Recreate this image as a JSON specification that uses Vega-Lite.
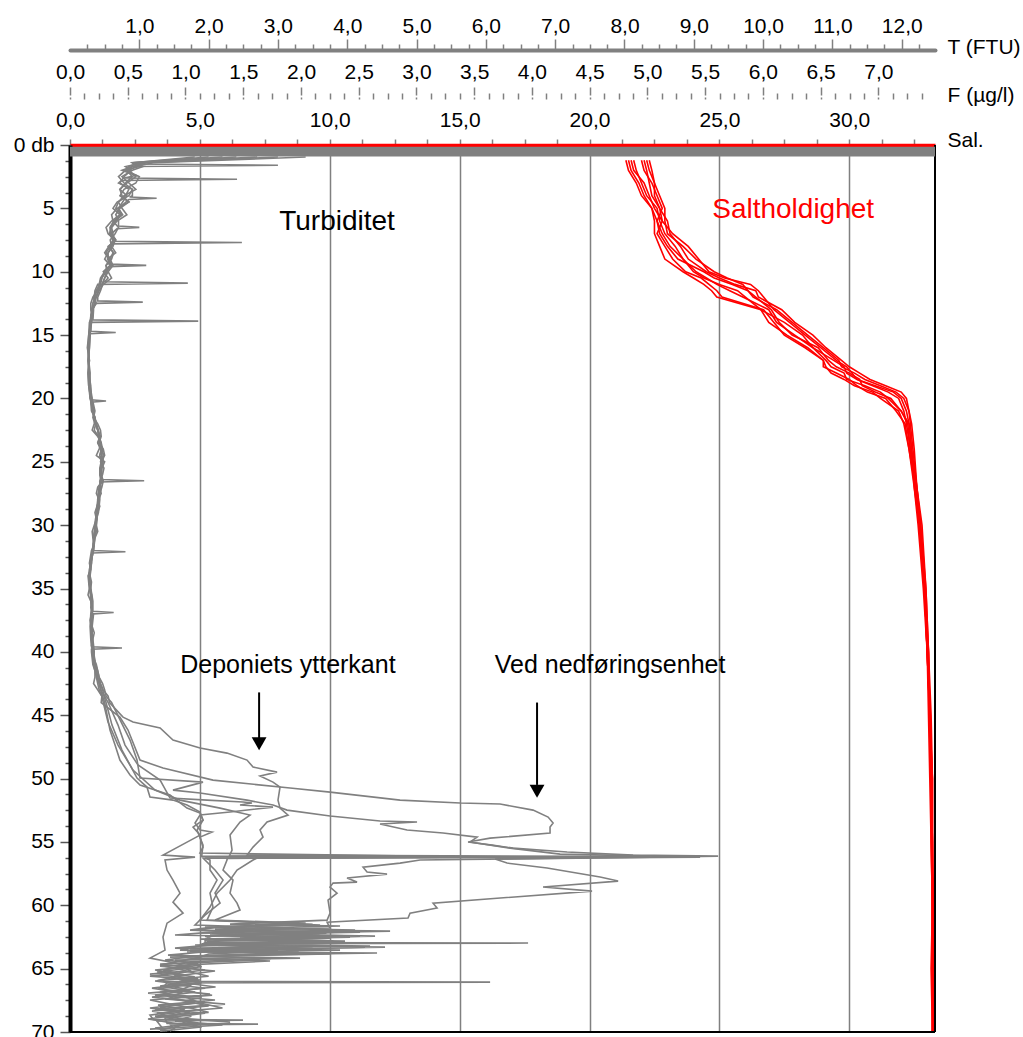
{
"$schema": "https://vega.github.io/schema/vega-lite/v6.json",
"width": 865,
"height": 887,
"autosize": "none",
"padding": {"left": 70, "top": 145, "right": 88, "bottom": 5},
"background": "white",
"config": {
  "view": {"stroke": null},
  "font": "Liberation Sans",
  "axis": {"labelFont": "Liberation Sans", "titleFont": "Liberation Sans", "labelFontSize": 21, "titleFontSize": 21, "titleFontWeight": "normal", "labelFontWeight": "normal", "labelColor": "#000", "titleColor": "#000", "labelOverlap": false, "labelBound": false, "labelFlush": false}
},
"datasets": {
"sal": [
{"p":"r1","d":1.2,"s":21.4},{"p":"r1","d":2,"s":21.5},{"p":"r1","d":3,"s":21.8},{"p":"r1","d":4,"s":22.0},{"p":"r1","d":5,"s":22.4},{"p":"r1","d":6,"s":22.5},{"p":"r1","d":7,"s":22.5},{"p":"r1","d":8,"s":22.7},{"p":"r1","d":9,"s":22.9},{"p":"r1","d":10,"s":23.6},{"p":"r1","d":10.5,"s":24.0},{"p":"r1","d":11,"s":24.4},{"p":"r1","d":11.5,"s":24.7},{"p":"r1","d":12,"s":24.9},{"p":"r1","d":13,"s":26.6},{"p":"r1","d":14,"s":26.9},{"p":"r1","d":15,"s":27.6},{"p":"r1","d":16,"s":28.4},{"p":"r1","d":17,"s":29.0},{"p":"r1","d":17.5,"s":29.1},{"p":"r1","d":18,"s":29.3},{"p":"r1","d":18.5,"s":29.8},{"p":"r1","d":19,"s":30.2},{"p":"r1","d":19.5,"s":30.9},{"p":"r1","d":20,"s":31.2},{"p":"r1","d":21,"s":31.9},{"p":"r1","d":22,"s":32.1},{"p":"r1","d":24,"s":32.3},{"p":"r1","d":27,"s":32.5},{"p":"r1","d":30,"s":32.7},{"p":"r1","d":35,"s":32.9},{"p":"r1","d":40,"s":33.0},{"p":"r1","d":45,"s":33.1},{"p":"r1","d":50,"s":33.15},{"p":"r1","d":55,"s":33.2},{"p":"r1","d":60,"s":33.2},{"p":"r1","d":65,"s":33.2},{"p":"r1","d":70,"s":33.25},
{"p":"r2","d":1.2,"s":22.3},{"p":"r2","d":2,"s":22.4},{"p":"r2","d":3,"s":22.5},{"p":"r2","d":4,"s":22.7},{"p":"r2","d":5,"s":22.9},{"p":"r2","d":6,"s":22.9},{"p":"r2","d":7,"s":23.0},{"p":"r2","d":8,"s":23.6},{"p":"r2","d":9,"s":24.1},{"p":"r2","d":10,"s":24.8},{"p":"r2","d":10.5,"s":25.3},{"p":"r2","d":11,"s":25.9},{"p":"r2","d":11.5,"s":26.1},{"p":"r2","d":12,"s":26.3},{"p":"r2","d":13,"s":27.2},{"p":"r2","d":14,"s":27.8},{"p":"r2","d":15,"s":28.4},{"p":"r2","d":16,"s":29.0},{"p":"r2","d":17,"s":29.6},{"p":"r2","d":17.5,"s":29.7},{"p":"r2","d":18,"s":30.2},{"p":"r2","d":18.5,"s":30.6},{"p":"r2","d":19,"s":31.2},{"p":"r2","d":19.5,"s":31.8},{"p":"r2","d":20,"s":32.1},{"p":"r2","d":21,"s":32.3},{"p":"r2","d":22,"s":32.35},{"p":"r2","d":24,"s":32.45},{"p":"r2","d":27,"s":32.6},{"p":"r2","d":30,"s":32.75},{"p":"r2","d":35,"s":32.95},{"p":"r2","d":40,"s":33.05},{"p":"r2","d":45,"s":33.1},{"p":"r2","d":50,"s":33.2},{"p":"r2","d":55,"s":33.2},{"p":"r2","d":60,"s":33.25},{"p":"r2","d":65,"s":33.2},{"p":"r2","d":70,"s":33.28},
{"p":"r3","d":1.2,"s":21.7},{"p":"r3","d":2,"s":21.8},{"p":"r3","d":3,"s":22.0},{"p":"r3","d":4,"s":22.2},{"p":"r3","d":5,"s":22.6},{"p":"r3","d":6,"s":22.7},{"p":"r3","d":7,"s":22.9},{"p":"r3","d":8,"s":23.3},{"p":"r3","d":9,"s":23.6},{"p":"r3","d":10,"s":24.0},{"p":"r3","d":10.5,"s":24.4},{"p":"r3","d":11,"s":25.0},{"p":"r3","d":11.5,"s":25.7},{"p":"r3","d":12,"s":26.0},{"p":"r3","d":13,"s":26.6},{"p":"r3","d":14,"s":27.5},{"p":"r3","d":15,"s":28.2},{"p":"r3","d":16,"s":28.6},{"p":"r3","d":17,"s":29.4},{"p":"r3","d":17.5,"s":29.8},{"p":"r3","d":18,"s":29.9},{"p":"r3","d":18.5,"s":30.3},{"p":"r3","d":19,"s":30.9},{"p":"r3","d":19.5,"s":31.5},{"p":"r3","d":20,"s":31.9},{"p":"r3","d":21,"s":32.1},{"p":"r3","d":22,"s":32.2},{"p":"r3","d":24,"s":32.35},{"p":"r3","d":27,"s":32.55},{"p":"r3","d":30,"s":32.7},{"p":"r3","d":35,"s":32.9},{"p":"r3","d":40,"s":33.0},{"p":"r3","d":45,"s":33.1},{"p":"r3","d":50,"s":33.15},{"p":"r3","d":55,"s":33.2},{"p":"r3","d":60,"s":33.2},{"p":"r3","d":65,"s":33.25},{"p":"r3","d":70,"s":33.2},
{"p":"r4","d":1.2,"s":22.0},{"p":"r4","d":2,"s":22.1},{"p":"r4","d":3,"s":22.4},{"p":"r4","d":4,"s":22.6},{"p":"r4","d":5,"s":22.8},{"p":"r4","d":6,"s":22.6},{"p":"r4","d":7,"s":22.7},{"p":"r4","d":8,"s":23.0},{"p":"r4","d":9,"s":23.4},{"p":"r4","d":10,"s":24.4},{"p":"r4","d":10.5,"s":24.8},{"p":"r4","d":11,"s":25.5},{"p":"r4","d":11.5,"s":26.1},{"p":"r4","d":12,"s":26.4},{"p":"r4","d":13,"s":27.0},{"p":"r4","d":14,"s":27.3},{"p":"r4","d":15,"s":27.8},{"p":"r4","d":16,"s":28.8},{"p":"r4","d":17,"s":29.2},{"p":"r4","d":17.5,"s":29.5},{"p":"r4","d":18,"s":30.0},{"p":"r4","d":18.5,"s":30.4},{"p":"r4","d":19,"s":30.5},{"p":"r4","d":19.5,"s":31.0},{"p":"r4","d":20,"s":31.6},{"p":"r4","d":21,"s":32.0},{"p":"r4","d":22,"s":32.3},{"p":"r4","d":24,"s":32.4},{"p":"r4","d":27,"s":32.5},{"p":"r4","d":30,"s":32.65},{"p":"r4","d":35,"s":32.85},{"p":"r4","d":40,"s":33.0},{"p":"r4","d":45,"s":33.05},{"p":"r4","d":50,"s":33.1},{"p":"r4","d":55,"s":33.15},{"p":"r4","d":60,"s":33.2},{"p":"r4","d":65,"s":33.15},{"p":"r4","d":70,"s":33.2},
{"p":"r5","d":1.2,"s":21.6},{"p":"r5","d":2,"s":21.7},{"p":"r5","d":3,"s":22.1},{"p":"r5","d":4,"s":22.3},{"p":"r5","d":5,"s":22.5},{"p":"r5","d":6,"s":22.8},{"p":"r5","d":7,"s":22.6},{"p":"r5","d":8,"s":22.9},{"p":"r5","d":9,"s":23.2},{"p":"r5","d":10,"s":23.7},{"p":"r5","d":10.5,"s":24.3},{"p":"r5","d":11,"s":24.6},{"p":"r5","d":11.5,"s":24.9},{"p":"r5","d":12,"s":25.1},{"p":"r5","d":13,"s":26.7},{"p":"r5","d":14,"s":27.1},{"p":"r5","d":15,"s":27.5},{"p":"r5","d":16,"s":28.3},{"p":"r5","d":17,"s":29.0},{"p":"r5","d":17.5,"s":29.0},{"p":"r5","d":18,"s":29.5},{"p":"r5","d":18.5,"s":30.0},{"p":"r5","d":19,"s":30.3},{"p":"r5","d":19.5,"s":30.7},{"p":"r5","d":20,"s":31.4},{"p":"r5","d":21,"s":31.8},{"p":"r5","d":22,"s":32.15},{"p":"r5","d":24,"s":32.3},{"p":"r5","d":27,"s":32.55},{"p":"r5","d":30,"s":32.7},{"p":"r5","d":35,"s":32.9},{"p":"r5","d":40,"s":33.0},{"p":"r5","d":45,"s":33.1},{"p":"r5","d":50,"s":33.15},{"p":"r5","d":55,"s":33.15},{"p":"r5","d":60,"s":33.2},{"p":"r5","d":65,"s":33.2},{"p":"r5","d":70,"s":33.2},
{"p":"r6","d":1.2,"s":22.2},{"p":"r6","d":2,"s":22.3},{"p":"r6","d":3,"s":22.5},{"p":"r6","d":4,"s":22.5},{"p":"r6","d":5,"s":22.7},{"p":"r6","d":6,"s":23.0},{"p":"r6","d":7,"s":23.1},{"p":"r6","d":8,"s":23.5},{"p":"r6","d":9,"s":23.8},{"p":"r6","d":10,"s":24.5},{"p":"r6","d":10.5,"s":25.0},{"p":"r6","d":11,"s":25.6},{"p":"r6","d":11.5,"s":26.4},{"p":"r6","d":12,"s":26.5},{"p":"r6","d":13,"s":27.4},{"p":"r6","d":14,"s":27.9},{"p":"r6","d":15,"s":28.6},{"p":"r6","d":16,"s":29.1},{"p":"r6","d":17,"s":29.7},{"p":"r6","d":17.5,"s":30.0},{"p":"r6","d":18,"s":30.4},{"p":"r6","d":18.5,"s":30.8},{"p":"r6","d":19,"s":31.4},{"p":"r6","d":19.5,"s":32.0},{"p":"r6","d":20,"s":32.2},{"p":"r6","d":21,"s":32.3},{"p":"r6","d":22,"s":32.4},{"p":"r6","d":24,"s":32.5},{"p":"r6","d":27,"s":32.6},{"p":"r6","d":30,"s":32.8},{"p":"r6","d":35,"s":32.95},{"p":"r6","d":40,"s":33.05},{"p":"r6","d":45,"s":33.15},{"p":"r6","d":50,"s":33.2},{"p":"r6","d":55,"s":33.2},{"p":"r6","d":60,"s":33.2},{"p":"r6","d":65,"s":33.25},{"p":"r6","d":70,"s":33.25},
{"p":"r7","d":1.2,"s":21.5},{"p":"r7","d":2,"s":21.6},{"p":"r7","d":3,"s":21.9},{"p":"r7","d":4,"s":22.1},{"p":"r7","d":5,"s":22.4},{"p":"r7","d":6,"s":22.6},{"p":"r7","d":7,"s":22.8},{"p":"r7","d":8,"s":23.1},{"p":"r7","d":9,"s":23.6},{"p":"r7","d":10,"s":24.1},{"p":"r7","d":10.5,"s":24.5},{"p":"r7","d":11,"s":24.9},{"p":"r7","d":11.5,"s":25.4},{"p":"r7","d":12,"s":25.9},{"p":"r7","d":13,"s":26.9},{"p":"r7","d":14,"s":27.2},{"p":"r7","d":15,"s":27.9},{"p":"r7","d":16,"s":28.6},{"p":"r7","d":17,"s":29.1},{"p":"r7","d":17.5,"s":29.3},{"p":"r7","d":18,"s":29.8},{"p":"r7","d":18.5,"s":29.9},{"p":"r7","d":19,"s":30.6},{"p":"r7","d":19.5,"s":31.2},{"p":"r7","d":20,"s":31.5},{"p":"r7","d":21,"s":32.0},{"p":"r7","d":22,"s":32.25},{"p":"r7","d":24,"s":32.35},{"p":"r7","d":27,"s":32.55},{"p":"r7","d":30,"s":32.7},{"p":"r7","d":35,"s":32.9},{"p":"r7","d":40,"s":33.0},{"p":"r7","d":45,"s":33.1},{"p":"r7","d":50,"s":33.15},{"p":"r7","d":55,"s":33.2},{"p":"r7","d":60,"s":33.2},{"p":"r7","d":65,"s":33.2},{"p":"r7","d":70,"s":33.2},
{"p":"r8","d":1.2,"s":22.1},{"p":"r8","d":2,"s":22.2},{"p":"r8","d":3,"s":22.3},{"p":"r8","d":4,"s":22.4},{"p":"r8","d":5,"s":22.7},{"p":"r8","d":6,"s":22.8},{"p":"r8","d":7,"s":23.2},{"p":"r8","d":8,"s":23.8},{"p":"r8","d":9,"s":24.2},{"p":"r8","d":10,"s":24.6},{"p":"r8","d":10.5,"s":25.2},{"p":"r8","d":11,"s":26.2},{"p":"r8","d":11.5,"s":26.5},{"p":"r8","d":12,"s":26.7},{"p":"r8","d":13,"s":27.1},{"p":"r8","d":14,"s":27.7},{"p":"r8","d":15,"s":28.3},{"p":"r8","d":16,"s":28.9},{"p":"r8","d":17,"s":29.5},{"p":"r8","d":17.5,"s":29.9},{"p":"r8","d":18,"s":30.1},{"p":"r8","d":18.5,"s":30.3},{"p":"r8","d":19,"s":31.0},{"p":"r8","d":19.5,"s":31.7},{"p":"r8","d":20,"s":32.0},{"p":"r8","d":21,"s":32.2},{"p":"r8","d":22,"s":32.3},{"p":"r8","d":24,"s":32.4},{"p":"r8","d":27,"s":32.6},{"p":"r8","d":30,"s":32.75},{"p":"r8","d":35,"s":32.9},{"p":"r8","d":40,"s":33.05},{"p":"r8","d":45,"s":33.1},{"p":"r8","d":50,"s":33.2},{"p":"r8","d":55,"s":33.2},{"p":"r8","d":60,"s":33.2},{"p":"r8","d":65,"s":33.2},{"p":"r8","d":70,"s":33.25}
],
"turb": [
{"p":"a","d":0.95,"t":3.0},{"p":"a","d":1.4,"t":1.1},{"p":"a","d":2,"t":0.75},{"p":"a","d":2.6,"t":0.78},{"p":"a","d":2.7,"t":2.41},{"p":"a","d":2.8,"t":0.74},{"p":"a","d":3,"t":0.7},{"p":"a","d":4,"t":0.85},{"p":"a","d":5,"t":0.62},{"p":"a","d":6,"t":0.6},{"p":"a","d":7,"t":0.55},{"p":"a","d":8,"t":0.62},{"p":"a","d":9,"t":0.5},{"p":"a","d":10,"t":0.5},{"p":"a","d":11,"t":0.42},{"p":"a","d":12,"t":0.33},{"p":"a","d":13,"t":0.3},{"p":"a","d":14,"t":0.28},{"p":"a","d":15,"t":0.27},{"p":"a","d":16,"t":0.25},{"p":"a","d":17,"t":0.28},{"p":"a","d":18,"t":0.26},{"p":"a","d":19,"t":0.27},{"p":"a","d":20,"t":0.29},{"p":"a","d":20.1,"t":0.3},{"p":"a","d":20.2,"t":0.52},{"p":"a","d":20.3,"t":0.3},{"p":"a","d":21,"t":0.31},{"p":"a","d":22,"t":0.35},{"p":"a","d":23,"t":0.4},{"p":"a","d":24,"t":0.42},{"p":"a","d":25,"t":0.5},{"p":"a","d":26,"t":0.43},{"p":"a","d":27,"t":0.4},{"p":"a","d":28,"t":0.42},{"p":"a","d":29,"t":0.36},{"p":"a","d":30,"t":0.35},{"p":"a","d":31,"t":0.33},{"p":"a","d":32,"t":0.31},{"p":"a","d":33,"t":0.28},{"p":"a","d":34,"t":0.26},{"p":"a","d":35,"t":0.28},{"p":"a","d":36,"t":0.3},{"p":"a","d":37,"t":0.3},{"p":"a","d":38,"t":0.29},{"p":"a","d":39,"t":0.3},{"p":"a","d":39.6,"t":0.31},{"p":"a","d":39.7,"t":0.75},{"p":"a","d":39.8,"t":0.31},{"p":"a","d":40,"t":0.31},{"p":"a","d":41,"t":0.33},{"p":"a","d":42,"t":0.36},{"p":"a","d":43,"t":0.4},{"p":"a","d":44,"t":0.45},
{"p":"a","d":45.15,"t":0.72},{"p":"a","d":46.17,"t":0.837},{"p":"a","d":48.54,"t":1.01},{"p":"a","d":49.17,"t":1.342},{"p":"a","d":50.12,"t":2.063},{"p":"a","d":50.75,"t":3.175},{"p":"a","d":51.07,"t":3.752},{"p":"a","d":51.7,"t":4.762},{"p":"a","d":51.93,"t":5.628},{"p":"a","d":52.01,"t":6.205},{"p":"a","d":52.49,"t":6.681},{"p":"a","d":53.04,"t":6.898},{"p":"a","d":53.51,"t":6.97},{"p":"a","d":53.83,"t":6.926},{"p":"a","d":54.3,"t":6.926},{"p":"a","d":54.7,"t":6.061},{"p":"a","d":55.01,"t":5.743},{"p":"a","d":55.25,"t":6.089},{"p":"a","d":55.49,"t":6.392},{"p":"a","d":55.8,"t":7.172},{"p":"a","d":56.04,"t":8.124},{"p":"a","d":56.12,"t":9.351},{"p":"a","d":56.27,"t":7.648},{"p":"a","d":56.35,"t":6.133},{"p":"a","d":56.67,"t":6.306},{"p":"a","d":57.06,"t":6.883},{"p":"a","d":57.77,"t":7.648},{"p":"a","d":58.09,"t":7.908},{"p":"a","d":58.56,"t":6.825},{"p":"a","d":58.88,"t":7.532},{"p":"a","d":59.83,"t":5.238},{"p":"a","d":60.22,"t":5.296},{"p":"a","d":60.62,"t":4.906},{"p":"a","d":61.01,"t":4.877},{"p":"a","d":61.33,"t":3.709},{"p":"a","d":61.8,"t":3.752},{"p":"a","d":61.96,"t":2.165},{"p":"a","d":62.12,"t":4.185},{"p":"a","d":62.35,"t":2.02},{"p":"a","d":62.51,"t":4.04},{"p":"a","d":62.75,"t":1.948},{"p":"a","d":62.93,"t":1.95},{"p":"a","d":62.98,"t":6.609},{"p":"a","d":63.03,"t":1.9},{"p":"a","d":63.22,"t":4.329},{"p":"a","d":63.38,"t":1.804},{"p":"a","d":63.54,"t":3.896},{"p":"a","d":63.69,"t":1.688},{"p":"a","d":63.77,"t":4.43},{"p":"a","d":64.01,"t":1.587},{"p":"a","d":64.17,"t":3.319},{"p":"a","d":64.33,"t":1.515},{"p":"a","d":64.72,"t":1.876},{"p":"a","d":65.11,"t":1.342},{"p":"a","d":65.51,"t":1.659},{"p":"a","d":65.9,"t":1.3},{"p":"a","d":66.0,"t":1.35},{"p":"a","d":66.06,"t":6.061},{"p":"a","d":66.12,"t":1.4},{"p":"a","d":66.3,"t":1.371},{"p":"a","d":66.69,"t":1.732},{"p":"a","d":67.09,"t":1.227},{"p":"a","d":67.48,"t":2.092},{"p":"a","d":67.88,"t":1.27},{"p":"a","d":68.27,"t":1.659},{"p":"a","d":68.67,"t":1.154},{"p":"a","d":69.0,"t":1.2},{"p":"a","d":69.06,"t":2.496},{"p":"a","d":69.12,"t":1.25},{"p":"a","d":69.46,"t":1.3},{"p":"a","d":69.93,"t":1.371},
{"p":"a","d":1.7,"t":0.9},{"p":"a","d":2.4,"t":0.95},{"p":"a","d":3.5,"t":0.9},{"p":"a","d":4.5,"t":0.68},{"p":"a","d":5.5,"t":0.72},{"p":"a","d":6.5,"t":0.52},{"p":"a","d":7.5,"t":0.65},{"p":"a","d":8.5,"t":0.55},{"p":"a","d":9.5,"t":0.58},{"p":"a","d":10.5,"t":0.44},{"p":"a","d":11.5,"t":0.4},{"p":"a","d":12.5,"t":0.3},{"p":"a","d":13.5,"t":0.32},{"p":"a","d":21.5,"t":0.36},{"p":"a","d":22.5,"t":0.32},{"p":"a","d":23.5,"t":0.45},{"p":"a","d":24.5,"t":0.38},{"p":"a","d":25.5,"t":0.46},{"p":"a","d":26.5,"t":0.47},{"p":"a","d":27.5,"t":0.38},{"p":"a","d":28.5,"t":0.39},{"p":"a","d":29.5,"t":0.38},{"p":"a","d":30.5,"t":0.32},{"p":"a","d":31.5,"t":0.35},{"p":"a","d":33.5,"t":0.3},{"p":"a","d":35.5,"t":0.26},{"p":"a","d":36.5,"t":0.32},{"p":"a","d":41.5,"t":0.36},{"p":"a","d":42.5,"t":0.34},{"p":"a","d":43.5,"t":0.46},
{"p":"b","d":0.95,"t":2.2},{"p":"b","d":1.4,"t":0.95},{"p":"b","d":2,"t":0.9},{"p":"b","d":3,"t":0.85},{"p":"b","d":4,"t":0.78},{"p":"b","d":5,"t":0.75},{"p":"b","d":6,"t":0.68},{"p":"b","d":7,"t":0.62},{"p":"b","d":7.6,"t":0.62},{"p":"b","d":7.7,"t":2.48},{"p":"b","d":7.8,"t":0.6},{"p":"b","d":8,"t":0.55},{"p":"b","d":9,"t":0.6},{"p":"b","d":10,"t":0.55},{"p":"b","d":11,"t":0.48},{"p":"b","d":12,"t":0.38},{"p":"b","d":13,"t":0.33},{"p":"b","d":14,"t":0.31},{"p":"b","d":15,"t":0.29},{"p":"b","d":16,"t":0.28},{"p":"b","d":17,"t":0.26},{"p":"b","d":18,"t":0.28},{"p":"b","d":19,"t":0.29},{"p":"b","d":20,"t":0.32},{"p":"b","d":21,"t":0.36},{"p":"b","d":22,"t":0.4},{"p":"b","d":23,"t":0.45},{"p":"b","d":24,"t":0.48},{"p":"b","d":25,"t":0.44},{"p":"b","d":26,"t":0.47},{"p":"b","d":27,"t":0.45},{"p":"b","d":28,"t":0.4},{"p":"b","d":29,"t":0.4},{"p":"b","d":30,"t":0.38},{"p":"b","d":31,"t":0.36},{"p":"b","d":32,"t":0.34},{"p":"b","d":33,"t":0.31},{"p":"b","d":34,"t":0.29},{"p":"b","d":35,"t":0.3},{"p":"b","d":36,"t":0.33},{"p":"b","d":36.8,"t":0.33},{"p":"b","d":36.9,"t":0.63},{"p":"b","d":37,"t":0.34},{"p":"b","d":38,"t":0.32},{"p":"b","d":39,"t":0.33},{"p":"b","d":40,"t":0.35},{"p":"b","d":41,"t":0.38},{"p":"b","d":42,"t":0.42},{"p":"b","d":43,"t":0.5},{"p":"b","d":44,"t":0.6},
{"p":"b","d":46.96,"t":0.866},{"p":"b","d":48.54,"t":0.967},{"p":"b","d":49.96,"t":1.01},{"p":"b","d":50.28,"t":1.919},{"p":"b","d":50.91,"t":1.486},{"p":"b","d":51.14,"t":1.876},{"p":"b","d":51.7,"t":2.554},{"p":"b","d":52.09,"t":2.929},{"p":"b","d":52.49,"t":3.131},{"p":"b","d":52.96,"t":3.752},{"p":"b","d":53.35,"t":4.473},{"p":"b","d":53.43,"t":5.007},{"p":"b","d":53.59,"t":4.473},{"p":"b","d":54.06,"t":4.863},{"p":"b","d":54.3,"t":5.382},{"p":"b","d":54.62,"t":5.873},{"p":"b","d":55.01,"t":5.772},{"p":"b","d":55.49,"t":6.349},{"p":"b","d":55.96,"t":7.071},{"p":"b","d":56.2,"t":9.091},{"p":"b","d":56.27,"t":7.359},{"p":"b","d":56.43,"t":5.051},{"p":"b","d":56.67,"t":4.762},{"p":"b","d":56.99,"t":4.228},{"p":"b","d":57.38,"t":4.286},{"p":"b","d":57.54,"t":4.574},{"p":"b","d":57.85,"t":3.997},{"p":"b","d":58.17,"t":4.141},{"p":"b","d":58.25,"t":3.795},{"p":"b","d":58.56,"t":3.752},{"p":"b","d":59.04,"t":3.853},{"p":"b","d":59.59,"t":3.723},{"p":"b","d":60.62,"t":3.752},{"p":"b","d":61.17,"t":3.709},{"p":"b","d":61.49,"t":2.309},{"p":"b","d":61.64,"t":3.896},{"p":"b","d":61.88,"t":2.092},{"p":"b","d":62.04,"t":4.618},{"p":"b","d":62.27,"t":2.309},{"p":"b","d":62.43,"t":4.185},{"p":"b","d":62.67,"t":1.876},{"p":"b","d":62.83,"t":3.968},{"p":"b","d":63.14,"t":2.237},{"p":"b","d":63.3,"t":4.257},{"p":"b","d":63.62,"t":1.732},{"p":"b","d":63.85,"t":3.752},{"p":"b","d":64.09,"t":1.443},{"p":"b","d":64.4,"t":2.886},{"p":"b","d":64.8,"t":1.3},{"p":"b","d":65.19,"t":2.092},{"p":"b","d":65.59,"t":1.515},{"p":"b","d":66.14,"t":1.876},{"p":"b","d":66.61,"t":1.27},{"p":"b","d":67.01,"t":2.02},{"p":"b","d":67.4,"t":1.371},{"p":"b","d":67.8,"t":2.237},{"p":"b","d":68.19,"t":1.227},{"p":"b","d":68.51,"t":1.948},{"p":"b","d":68.9,"t":1.371},{"p":"b","d":69.32,"t":1.4},{"p":"b","d":69.38,"t":2.713},{"p":"b","d":69.44,"t":1.45},{"p":"b","d":69.85,"t":1.515},
{"p":"b","d":1.7,"t":1.05},{"p":"b","d":2.5,"t":0.75},{"p":"b","d":3.5,"t":0.95},{"p":"b","d":4.5,"t":0.7},{"p":"b","d":5.5,"t":0.82},{"p":"b","d":6.5,"t":0.6},{"p":"b","d":8.5,"t":0.63},{"p":"b","d":9.5,"t":0.52},{"p":"b","d":10.5,"t":0.6},{"p":"b","d":11.5,"t":0.42},{"p":"b","d":12.5,"t":0.36},{"p":"b","d":13.5,"t":0.3},{"p":"b","d":21.5,"t":0.34},{"p":"b","d":22.5,"t":0.44},{"p":"b","d":23.5,"t":0.42},{"p":"b","d":24.5,"t":0.5},{"p":"b","d":25.5,"t":0.49},{"p":"b","d":26.5,"t":0.43},{"p":"b","d":27.5,"t":0.43},{"p":"b","d":28.5,"t":0.43},{"p":"b","d":30.5,"t":0.4},{"p":"b","d":32.5,"t":0.31},{"p":"b","d":34.5,"t":0.31},{"p":"b","d":38.5,"t":0.35},{"p":"b","d":40.5,"t":0.34},{"p":"b","d":42.5,"t":0.47},{"p":"b","d":43.5,"t":0.52},
{"p":"c","d":0.95,"t":2.7},{"p":"c","d":1.4,"t":1.0},{"p":"c","d":2,"t":0.8},{"p":"c","d":3,"t":0.95},{"p":"c","d":4,"t":0.72},{"p":"c","d":5,"t":0.68},{"p":"c","d":6,"t":0.62},{"p":"c","d":7,"t":0.65},{"p":"c","d":8,"t":0.6},{"p":"c","d":9,"t":0.54},{"p":"c","d":9.4,"t":0.58},{"p":"c","d":9.5,"t":1.1},{"p":"c","d":9.6,"t":0.56},{"p":"c","d":10,"t":0.48},{"p":"c","d":10.8,"t":0.5},{"p":"c","d":10.9,"t":1.7},{"p":"c","d":11,"t":0.4},{"p":"c","d":12,"t":0.35},{"p":"c","d":13,"t":0.32},{"p":"c","d":14,"t":0.29},{"p":"c","d":15,"t":0.28},{"p":"c","d":16,"t":0.27},{"p":"c","d":17,"t":0.27},{"p":"c","d":18,"t":0.27},{"p":"c","d":19,"t":0.3},{"p":"c","d":20,"t":0.3},{"p":"c","d":21,"t":0.33},{"p":"c","d":22,"t":0.38},{"p":"c","d":23,"t":0.43},{"p":"c","d":24,"t":0.45},{"p":"c","d":25,"t":0.47},{"p":"c","d":26,"t":0.45},{"p":"c","d":27,"t":0.46},{"p":"c","d":28,"t":0.43},{"p":"c","d":29,"t":0.41},{"p":"c","d":30,"t":0.37},{"p":"c","d":31,"t":0.34},{"p":"c","d":32,"t":0.32},{"p":"c","d":33,"t":0.3},{"p":"c","d":34,"t":0.27},{"p":"c","d":35,"t":0.29},{"p":"c","d":36,"t":0.31},{"p":"c","d":37,"t":0.31},{"p":"c","d":38,"t":0.3},{"p":"c","d":39,"t":0.33},{"p":"c","d":40,"t":0.34},{"p":"c","d":41,"t":0.37},{"p":"c","d":42,"t":0.42},{"p":"c","d":43,"t":0.48},{"p":"c","d":44,"t":0.57},
{"p":"c","d":45.15,"t":0.765},{"p":"c","d":45.54,"t":0.909},{"p":"c","d":46.01,"t":1.3},{"p":"c","d":46.96,"t":1.486},{"p":"c","d":47.59,"t":1.876},{"p":"c","d":47.99,"t":2.265},{"p":"c","d":48.54,"t":2.554},{"p":"c","d":49.09,"t":2.641},{"p":"c","d":49.49,"t":2.987},{"p":"c","d":49.8,"t":2.742},{"p":"c","d":50.28,"t":2.929},{"p":"c","d":50.67,"t":3.03},{"p":"c","d":51.7,"t":3.001},{"p":"c","d":52.33,"t":3.03},{"p":"c","d":52.88,"t":3.146},{"p":"c","d":53.43,"t":2.843},{"p":"c","d":54.06,"t":2.742},{"p":"c","d":54.62,"t":2.785},{"p":"c","d":55.41,"t":2.641},{"p":"c","d":56.04,"t":2.554},{"p":"c","d":56.16,"t":8.369},{"p":"c","d":56.28,"t":2.7},{"p":"c","d":56.43,"t":2.641},{"p":"c","d":57.22,"t":2.41},{"p":"c","d":58.01,"t":2.309},{"p":"c","d":59.04,"t":2.121},{"p":"c","d":60.14,"t":2.02},{"p":"c","d":61.17,"t":1.876},{"p":"c","d":61.56,"t":3.608},{"p":"c","d":61.72,"t":1.948},{"p":"c","d":61.96,"t":4.113},{"p":"c","d":62.19,"t":1.876},{"p":"c","d":62.43,"t":4.401},{"p":"c","d":62.67,"t":1.948},{"p":"c","d":62.91,"t":3.752},{"p":"c","d":63.14,"t":1.804},{"p":"c","d":63.3,"t":4.545},{"p":"c","d":63.54,"t":1.732},{"p":"c","d":63.77,"t":3.175},{"p":"c","d":64.09,"t":1.659},{"p":"c","d":64.33,"t":2.742},{"p":"c","d":64.64,"t":1.3},{"p":"c","d":65.11,"t":1.948},{"p":"c","d":65.59,"t":1.154},{"p":"c","d":65.9,"t":1.876},{"p":"c","d":66.38,"t":1.3},{"p":"c","d":66.85,"t":1.804},{"p":"c","d":67.25,"t":1.183},{"p":"c","d":67.64,"t":1.948},{"p":"c","d":68.04,"t":1.3},{"p":"c","d":68.51,"t":1.732},{"p":"c","d":68.98,"t":1.126},{"p":"c","d":69.38,"t":1.587},{"p":"c","d":69.93,"t":1.443},
{"p":"c","d":1.7,"t":0.85},{"p":"c","d":2.5,"t":1.0},{"p":"c","d":3.5,"t":0.78},{"p":"c","d":4.5,"t":0.85},{"p":"c","d":5.5,"t":0.6},{"p":"c","d":6.5,"t":0.7},{"p":"c","d":7.5,"t":0.58},{"p":"c","d":8.5,"t":0.66},{"p":"c","d":10.5,"t":0.55},{"p":"c","d":11.5,"t":0.36},{"p":"c","d":12.5,"t":0.38},{"p":"c","d":13.5,"t":0.3},{"p":"c","d":22.5,"t":0.41},{"p":"c","d":23.5,"t":0.4},{"p":"c","d":24.5,"t":0.49},{"p":"c","d":25.5,"t":0.44},{"p":"c","d":26.5,"t":0.48},{"p":"c","d":27.5,"t":0.43},{"p":"c","d":29.5,"t":0.38},{"p":"c","d":31.5,"t":0.35},{"p":"c","d":33.5,"t":0.28},{"p":"c","d":35.5,"t":0.31},{"p":"c","d":39.5,"t":0.31},{"p":"c","d":41.5,"t":0.4},{"p":"c","d":42.5,"t":0.44},{"p":"c","d":43.5,"t":0.55},
{"p":"d","d":0.95,"t":1.8},{"p":"d","d":1.4,"t":0.9},{"p":"d","d":2,"t":0.8},{"p":"d","d":3,"t":0.78},{"p":"d","d":4,"t":0.9},{"p":"d","d":4.1,"t":0.86},{"p":"d","d":4.2,"t":1.25},{"p":"d","d":4.3,"t":0.85},{"p":"d","d":5,"t":0.7},{"p":"d","d":6,"t":0.64},{"p":"d","d":7,"t":0.58},{"p":"d","d":8,"t":0.56},{"p":"d","d":9,"t":0.56},{"p":"d","d":10,"t":0.52},{"p":"d","d":11,"t":0.44},{"p":"d","d":12,"t":0.37},{"p":"d","d":13,"t":0.34},{"p":"d","d":13.8,"t":0.33},{"p":"d","d":13.9,"t":1.85},{"p":"d","d":14,"t":0.3},{"p":"d","d":15,"t":0.29},{"p":"d","d":16,"t":0.28},{"p":"d","d":17,"t":0.27},{"p":"d","d":18,"t":0.29},{"p":"d","d":19,"t":0.28},{"p":"d","d":20,"t":0.31},{"p":"d","d":21,"t":0.34},{"p":"d","d":22,"t":0.37},{"p":"d","d":23,"t":0.41},{"p":"d","d":24,"t":0.46},{"p":"d","d":25,"t":0.45},{"p":"d","d":26,"t":0.44},{"p":"d","d":27,"t":0.42},{"p":"d","d":28,"t":0.4},{"p":"d","d":29,"t":0.39},{"p":"d","d":30,"t":0.38},{"p":"d","d":31,"t":0.36},{"p":"d","d":32,"t":0.33},{"p":"d","d":33,"t":0.31},{"p":"d","d":34,"t":0.28},{"p":"d","d":35,"t":0.3},{"p":"d","d":36,"t":0.32},{"p":"d","d":37,"t":0.33},{"p":"d","d":38,"t":0.31},{"p":"d","d":39,"t":0.32},{"p":"d","d":40,"t":0.34},{"p":"d","d":41,"t":0.36},{"p":"d","d":42,"t":0.39},{"p":"d","d":43,"t":0.44},{"p":"d","d":44,"t":0.5},
{"p":"d","d":46.17,"t":0.577},{"p":"d","d":47.36,"t":0.65},{"p":"d","d":48.54,"t":0.72},{"p":"d","d":49.72,"t":0.866},{"p":"d","d":50.51,"t":1.01},{"p":"d","d":51.3,"t":1.443},{"p":"d","d":52.33,"t":1.688},{"p":"d","d":52.72,"t":1.876},{"p":"d","d":53.28,"t":1.919},{"p":"d","d":53.83,"t":1.775},{"p":"d","d":54.46,"t":1.876},{"p":"d","d":56.04,"t":1.342},{"p":"d","d":56.2,"t":1.804},{"p":"d","d":56.43,"t":1.371},{"p":"d","d":57.22,"t":1.4},{"p":"d","d":58.01,"t":1.486},{"p":"d","d":59.04,"t":1.587},{"p":"d","d":59.75,"t":1.486},{"p":"d","d":60.62,"t":1.631},{"p":"d","d":61.41,"t":1.4},{"p":"d","d":62.51,"t":1.342},{"p":"d","d":63.54,"t":1.371},{"p":"d","d":64.17,"t":1.154},{"p":"d","d":64.56,"t":1.515},{"p":"d","d":65.11,"t":1.227},{"p":"d","d":65.75,"t":1.472},{"p":"d","d":66.54,"t":1.183},{"p":"d","d":67.32,"t":1.443},{"p":"d","d":68.11,"t":1.154},{"p":"d","d":68.9,"t":1.414},{"p":"d","d":69.69,"t":1.227},
{"p":"d","d":1.7,"t":1.0},{"p":"d","d":2.5,"t":0.7},{"p":"d","d":3.5,"t":0.9},{"p":"d","d":5.5,"t":0.76},{"p":"d","d":6.5,"t":0.58},{"p":"d","d":7.5,"t":0.64},{"p":"d","d":8.5,"t":0.5},{"p":"d","d":9.5,"t":0.6},{"p":"d","d":10.5,"t":0.46},{"p":"d","d":11.5,"t":0.41},{"p":"d","d":12.5,"t":0.33},{"p":"d","d":22.5,"t":0.35},{"p":"d","d":24.5,"t":0.43},{"p":"d","d":26.5,"t":0.46},{"p":"d","d":28.5,"t":0.42},{"p":"d","d":33.5,"t":0.29},{"p":"d","d":36.5,"t":0.3},{"p":"d","d":42.5,"t":0.42},{"p":"d","d":43.5,"t":0.47},
{"p":"d","d":64.85,"t":1.7},{"p":"d","d":65.4,"t":1.55},{"p":"d","d":66.1,"t":1.9},{"p":"d","d":66.9,"t":1.6},{"p":"d","d":67.7,"t":1.8},{"p":"d","d":68.5,"t":1.6},{"p":"d","d":69.3,"t":1.85},{"p":"d","d":69.9,"t":1.4},
{"p":"e","d":0.95,"t":3.4},{"p":"e","d":1.4,"t":1.2},{"p":"e","d":2,"t":0.85},{"p":"e","d":3,"t":0.82},{"p":"e","d":4,"t":0.75},{"p":"e","d":5,"t":0.72},{"p":"e","d":6,"t":0.7},{"p":"e","d":6.4,"t":0.7},{"p":"e","d":6.5,"t":1.0},{"p":"e","d":6.6,"t":0.68},{"p":"e","d":7,"t":0.6},{"p":"e","d":8,"t":0.58},{"p":"e","d":9,"t":0.58},{"p":"e","d":10,"t":0.55},{"p":"e","d":11,"t":0.47},{"p":"e","d":12,"t":0.4},{"p":"e","d":12.3,"t":0.4},{"p":"e","d":12.4,"t":1.05},{"p":"e","d":12.5,"t":0.37},{"p":"e","d":13,"t":0.31},{"p":"e","d":14,"t":0.31},{"p":"e","d":15,"t":0.27},{"p":"e","d":16,"t":0.26},{"p":"e","d":17,"t":0.28},{"p":"e","d":18,"t":0.26},{"p":"e","d":19,"t":0.27},{"p":"e","d":20,"t":0.3},{"p":"e","d":21,"t":0.35},{"p":"e","d":22,"t":0.36},{"p":"e","d":23,"t":0.44},{"p":"e","d":24,"t":0.44},{"p":"e","d":25,"t":0.48},{"p":"e","d":26,"t":0.46},{"p":"e","d":27,"t":0.43},{"p":"e","d":28,"t":0.41},{"p":"e","d":29,"t":0.38},{"p":"e","d":30,"t":0.36},{"p":"e","d":31,"t":0.35},{"p":"e","d":32,"t":0.33},{"p":"e","d":33,"t":0.29},{"p":"e","d":34,"t":0.28},{"p":"e","d":35,"t":0.29},{"p":"e","d":36,"t":0.3},{"p":"e","d":37,"t":0.32},{"p":"e","d":38,"t":0.31},{"p":"e","d":39,"t":0.31},{"p":"e","d":40,"t":0.33},{"p":"e","d":41,"t":0.35},{"p":"e","d":42,"t":0.4},{"p":"e","d":43,"t":0.47},{"p":"e","d":44,"t":0.55},
{"p":"e","d":45.78,"t":0.693},{"p":"e","d":47.36,"t":0.794},{"p":"e","d":48.93,"t":0.981},{"p":"e","d":50.12,"t":1.3},{"p":"e","d":51.54,"t":1.443},{"p":"e","d":51.7,"t":1.977},{"p":"e","d":51.85,"t":2.496},{"p":"e","d":51.93,"t":2.626},{"p":"e","d":52.09,"t":2.453},{"p":"e","d":52.25,"t":2.929},{"p":"e","d":52.64,"t":2.309},{"p":"e","d":52.88,"t":1.876},{"p":"e","d":53.51,"t":1.804},{"p":"e","d":54.06,"t":1.876},{"p":"e","d":54.22,"t":2.049},{"p":"e","d":54.62,"t":1.876},{"p":"e","d":55.41,"t":1.919},{"p":"e","d":55.88,"t":1.876},{"p":"e","d":56.16,"t":5.483},{"p":"e","d":56.28,"t":1.95},{"p":"e","d":56.43,"t":2.02},{"p":"e","d":57.22,"t":2.02},{"p":"e","d":58.01,"t":2.121},{"p":"e","d":59.04,"t":2.02},{"p":"e","d":60.14,"t":2.063},{"p":"e","d":61.17,"t":1.977},{"p":"e","d":61.96,"t":1.732},{"p":"e","d":62.75,"t":2.092},{"p":"e","d":63.54,"t":1.587},{"p":"e","d":64.33,"t":1.371},{"p":"e","d":64.88,"t":1.587},{"p":"e","d":65.43,"t":1.154},{"p":"e","d":66.22,"t":1.443},{"p":"e","d":66.93,"t":1.126},{"p":"e","d":67.56,"t":1.659},{"p":"e","d":68.35,"t":1.183},{"p":"e","d":69.14,"t":1.515},{"p":"e","d":69.77,"t":1.154},
{"p":"e","d":1.7,"t":0.95},{"p":"e","d":2.5,"t":0.95},{"p":"e","d":3.5,"t":0.72},{"p":"e","d":4.5,"t":0.85},{"p":"e","d":5.5,"t":0.66},{"p":"e","d":7.5,"t":0.66},{"p":"e","d":8.5,"t":0.52},{"p":"e","d":9.5,"t":0.62},{"p":"e","d":10.5,"t":0.5},{"p":"e","d":11.5,"t":0.44},{"p":"e","d":13.5,"t":0.33},{"p":"e","d":21.5,"t":0.33},{"p":"e","d":23.5,"t":0.4},{"p":"e","d":25.5,"t":0.46},{"p":"e","d":27.5,"t":0.45},{"p":"e","d":30.5,"t":0.38},{"p":"e","d":34.5,"t":0.27},{"p":"e","d":41.5,"t":0.38},{"p":"e","d":43.5,"t":0.5},
{"p":"e","d":61.5,"t":3.5},{"p":"e","d":61.75,"t":2.0},{"p":"e","d":62.2,"t":3.7},{"p":"e","d":62.45,"t":1.95},{"p":"e","d":62.9,"t":3.6},{"p":"e","d":63.2,"t":1.9},{"p":"e","d":63.7,"t":3.3},{"p":"e","d":64.0,"t":1.8},
{"p":"e","d":64.6,"t":1.85},{"p":"e","d":65.15,"t":1.75},{"p":"e","d":65.8,"t":1.85},{"p":"e","d":66.55,"t":1.95},{"p":"e","d":67.25,"t":1.9},{"p":"e","d":67.95,"t":2.0},{"p":"e","d":68.75,"t":1.75},{"p":"e","d":69.45,"t":2.2},
{"p":"f","d":0.95,"t":2.4},{"p":"f","d":1.4,"t":1.05},{"p":"f","d":2,"t":0.88},{"p":"f","d":3,"t":0.72},{"p":"f","d":4,"t":0.8},{"p":"f","d":5,"t":0.66},{"p":"f","d":6,"t":0.63},{"p":"f","d":7,"t":0.6},{"p":"f","d":8,"t":0.6},{"p":"f","d":9,"t":0.55},{"p":"f","d":10,"t":0.5},{"p":"f","d":11,"t":0.43},{"p":"f","d":12,"t":0.34},{"p":"f","d":13,"t":0.33},{"p":"f","d":14,"t":0.3},{"p":"f","d":14.7,"t":0.3},{"p":"f","d":14.8,"t":0.66},{"p":"f","d":14.9,"t":0.29},{"p":"f","d":15,"t":0.28},{"p":"f","d":16,"t":0.27},{"p":"f","d":17,"t":0.26},{"p":"f","d":18,"t":0.27},{"p":"f","d":19,"t":0.28},{"p":"f","d":20,"t":0.29},{"p":"f","d":21,"t":0.33},{"p":"f","d":22,"t":0.38},{"p":"f","d":23,"t":0.42},{"p":"f","d":24,"t":0.47},{"p":"f","d":25,"t":0.45},{"p":"f","d":26,"t":0.43},{"p":"f","d":26.4,"t":0.44},{"p":"f","d":26.5,"t":1.07},{"p":"f","d":26.6,"t":0.43},{"p":"f","d":27,"t":0.44},{"p":"f","d":28,"t":0.42},{"p":"f","d":29,"t":0.39},{"p":"f","d":30,"t":0.37},{"p":"f","d":31,"t":0.35},{"p":"f","d":32,"t":0.34},{"p":"f","d":33,"t":0.3},{"p":"f","d":34,"t":0.29},{"p":"f","d":35,"t":0.28},{"p":"f","d":36,"t":0.31},{"p":"f","d":37,"t":0.32},{"p":"f","d":38,"t":0.32},{"p":"f","d":39,"t":0.32},{"p":"f","d":40,"t":0.33},{"p":"f","d":41,"t":0.36},{"p":"f","d":42,"t":0.4},{"p":"f","d":43,"t":0.45},{"p":"f","d":44,"t":0.52},
{"p":"f","d":45.78,"t":0.606},{"p":"f","d":47.75,"t":0.75},{"p":"f","d":49.96,"t":0.967},{"p":"f","d":50.67,"t":1.11},{"p":"f","d":51.46,"t":1.154},{"p":"f","d":51.7,"t":1.486},{"p":"f","d":52.09,"t":1.688},{"p":"f","d":52.64,"t":1.876},{"p":"f","d":53.28,"t":1.919},{"p":"f","d":54.06,"t":1.833},{"p":"f","d":55.25,"t":1.919},{"p":"f","d":56.12,"t":1.9},{"p":"f","d":56.18,"t":6.9},{"p":"f","d":56.27,"t":1.919},{"p":"f","d":57.22,"t":2.092},{"p":"f","d":58.01,"t":2.208},{"p":"f","d":59.04,"t":2.092},{"p":"f","d":59.83,"t":2.165},{"p":"f","d":60.78,"t":1.948},{"p":"f","d":61.56,"t":1.804},{"p":"f","d":62.35,"t":1.515},{"p":"f","d":63.14,"t":1.876},{"p":"f","d":63.93,"t":1.414},{"p":"f","d":64.48,"t":1.659},{"p":"f","d":65.27,"t":1.255},{"p":"f","d":66.06,"t":1.558},{"p":"f","d":66.85,"t":1.3},{"p":"f","d":67.72,"t":1.876},{"p":"f","d":68.51,"t":1.255},{"p":"f","d":69.3,"t":1.659},{"p":"f","d":69.93,"t":1.3},
{"p":"f","d":1.7,"t":0.8},{"p":"f","d":2.5,"t":0.78},{"p":"f","d":3.5,"t":0.85},{"p":"f","d":4.5,"t":0.7},{"p":"f","d":5.5,"t":0.74},{"p":"f","d":6.5,"t":0.58},{"p":"f","d":7.5,"t":0.66},{"p":"f","d":8.5,"t":0.55},{"p":"f","d":9.5,"t":0.6},{"p":"f","d":10.5,"t":0.46},{"p":"f","d":11.5,"t":0.38},{"p":"f","d":12.5,"t":0.36},{"p":"f","d":13.5,"t":0.3},{"p":"f","d":21.5,"t":0.36},{"p":"f","d":23.5,"t":0.45},{"p":"f","d":25.5,"t":0.43},{"p":"f","d":27.5,"t":0.41},{"p":"f","d":29.5,"t":0.37},{"p":"f","d":35.5,"t":0.3},{"p":"f","d":42.5,"t":0.42},{"p":"f","d":43.5,"t":0.49},
{"p":"f","d":61.8,"t":3.2},{"p":"f","d":62.1,"t":2.1},{"p":"f","d":62.6,"t":3.75},{"p":"f","d":62.85,"t":2.0},{"p":"f","d":63.4,"t":3.5},{"p":"f","d":63.65,"t":2.0},{"p":"f","d":64.2,"t":2.9},
{"p":"f","d":64.85,"t":1.9},{"p":"f","d":65.65,"t":1.8},{"p":"f","d":66.45,"t":2.1},{"p":"f","d":67.3,"t":1.7},{"p":"f","d":68.1,"t":2.2},{"p":"f","d":68.9,"t":1.55},{"p":"f","d":69.6,"t":1.9},
{"p":"g","d":0.95,"t":2.0},{"p":"g","d":1.4,"t":0.9},{"p":"g","d":1.5,"t":0.92},{"p":"g","d":1.6,"t":3.0},{"p":"g","d":1.7,"t":0.9},{"p":"g","d":2,"t":0.82},{"p":"g","d":3,"t":0.8},{"p":"g","d":4,"t":0.82},{"p":"g","d":5,"t":0.7},{"p":"g","d":6,"t":0.66},{"p":"g","d":7,"t":0.57},{"p":"g","d":8,"t":0.57},{"p":"g","d":9,"t":0.58},{"p":"g","d":10,"t":0.53},{"p":"g","d":11,"t":0.46},{"p":"g","d":12,"t":0.36},{"p":"g","d":13,"t":0.31},{"p":"g","d":14,"t":0.29},{"p":"g","d":15,"t":0.28},{"p":"g","d":16,"t":0.26},{"p":"g","d":17,"t":0.27},{"p":"g","d":18,"t":0.28},{"p":"g","d":19,"t":0.29},{"p":"g","d":20,"t":0.31},{"p":"g","d":21,"t":0.32},{"p":"g","d":22,"t":0.37},{"p":"g","d":23,"t":0.41},{"p":"g","d":24,"t":0.45},{"p":"g","d":25,"t":0.46},{"p":"g","d":26,"t":0.44},{"p":"g","d":27,"t":0.42},{"p":"g","d":28,"t":0.4},{"p":"g","d":29,"t":0.38},{"p":"g","d":30,"t":0.36},{"p":"g","d":31,"t":0.34},{"p":"g","d":32,"t":0.33},{"p":"g","d":32.1,"t":0.8},{"p":"g","d":32.2,"t":0.33},{"p":"g","d":33,"t":0.3},{"p":"g","d":34,"t":0.28},{"p":"g","d":35,"t":0.29},{"p":"g","d":36,"t":0.31},{"p":"g","d":37,"t":0.31},{"p":"g","d":38,"t":0.31},{"p":"g","d":39,"t":0.31},{"p":"g","d":40,"t":0.32},{"p":"g","d":41,"t":0.34},{"p":"g","d":42,"t":0.38},{"p":"g","d":43,"t":0.42},{"p":"g","d":44,"t":0.48},
{"p":"g","d":45.54,"t":0.548},{"p":"g","d":47.36,"t":0.693},{"p":"g","d":49.33,"t":0.909},{"p":"g","d":50.91,"t":1.227},{"p":"g","d":51.7,"t":1.587},{"p":"g","d":52.33,"t":2.165},{"p":"g","d":52.88,"t":2.597},{"p":"g","d":53.43,"t":2.453},{"p":"g","d":54.46,"t":2.309},{"p":"g","d":55.64,"t":2.338},{"p":"g","d":56.1,"t":2.3},{"p":"g","d":56.2,"t":7.648},{"p":"g","d":56.3,"t":2.27},{"p":"g","d":56.43,"t":2.265},{"p":"g","d":57.22,"t":2.208},{"p":"g","d":58.01,"t":2.352},{"p":"g","d":59.04,"t":2.309},{"p":"g","d":59.83,"t":2.41},{"p":"g","d":60.38,"t":2.453},{"p":"g","d":61.17,"t":2.092},{"p":"g","d":61.96,"t":1.804},{"p":"g","d":62.59,"t":2.453},{"p":"g","d":63.38,"t":1.515},{"p":"g","d":64.09,"t":1.876},{"p":"g","d":64.72,"t":1.3},{"p":"g","d":65.27,"t":1.732},{"p":"g","d":65.98,"t":1.227},{"p":"g","d":66.69,"t":1.587},{"p":"g","d":67.48,"t":1.154},{"p":"g","d":68.11,"t":1.732},{"p":"g","d":68.75,"t":1.227},{"p":"g","d":69.22,"t":2.309},{"p":"g","d":69.85,"t":1.3},
{"p":"g","d":2.5,"t":0.9},{"p":"g","d":3.5,"t":0.72},{"p":"g","d":4.5,"t":0.76},{"p":"g","d":5.5,"t":0.74},{"p":"g","d":6.5,"t":0.6},{"p":"g","d":7.5,"t":0.62},{"p":"g","d":8.5,"t":0.62},{"p":"g","d":9.5,"t":0.52},{"p":"g","d":10.5,"t":0.5},{"p":"g","d":11.5,"t":0.38},{"p":"g","d":12.5,"t":0.33},{"p":"g","d":13.5,"t":0.31},{"p":"g","d":22.5,"t":0.4},{"p":"g","d":24.5,"t":0.43},{"p":"g","d":26.5,"t":0.46},{"p":"g","d":29.5,"t":0.39},{"p":"g","d":31.5,"t":0.33},{"p":"g","d":37.5,"t":0.29},{"p":"g","d":42.5,"t":0.4},{"p":"g","d":43.5,"t":0.46},
{"p":"g","d":61.4,"t":3.4},{"p":"g","d":61.7,"t":2.2},{"p":"g","d":62.25,"t":3.6},{"p":"g","d":62.8,"t":3.8},{"p":"g","d":63.1,"t":2.1},{"p":"g","d":63.6,"t":3.0},{"p":"g","d":63.85,"t":2.0},
{"p":"g","d":65.0,"t":1.55},{"p":"g","d":65.6,"t":2.0},{"p":"g","d":66.35,"t":1.75},{"p":"g","d":67.1,"t":2.05},{"p":"g","d":67.8,"t":1.45},{"p":"g","d":68.45,"t":2.0},{"p":"g","d":69.5,"t":1.6}
]
},
"encoding": {
  "y": {"field": "d", "type": "quantitative",
    "scale": {"domain": [0, 70], "reverse": true, "nice": false, "zero": false},
    "axis": {"title": null, "orient": "left",
      "values": [0,1.25,2.5,3.75,5,6.25,7.5,8.75,10,11.25,12.5,13.75,15,16.25,17.5,18.75,20,21.25,22.5,23.75,25,26.25,27.5,28.75,30,31.25,32.5,33.75,35,36.25,37.5,38.75,40,41.25,42.5,43.75,45,46.25,47.5,48.75,50,51.25,52.5,53.75,55,56.25,57.5,58.75,60,61.25,62.5,63.75,65,66.25,67.5,68.75,70],
      "labelExpr": "datum.value % 5 === 0 ? (datum.value === 0 ? '0 db' : format(datum.value, 'd')) : ''",
      "tickSize": {"condition": {"test": "datum.value % 5 === 0", "value": 10}, "value": 5},
      "tickColor": "#555555", "tickWidth": 1.5,
      "domainColor": "#000000", "domainWidth": 4,
      "labelPadding": 6, "labelBaseline": "middle", "grid": false}
  }
},
"layer": [
  {
    "encoding": {
      "x": {"field": "s", "type": "quantitative",
        "scale": {"domain": [0, 33.3], "nice": false, "zero": false},
        "axis": {"orient": "top", "offset": 0, "title": "Sal.", "titleX": 877, "titleY": -5, "titleAlign": "left", "titleBaseline": "middle", "titleAngle": 0,
          "values": [0,1.25,2.5,3.75,5,6.25,7.5,8.75,10,11.25,12.5,13.75,15,16.25,17.5,18.75,20,21.25,22.5,23.75,25,26.25,27.5,28.75,30,31.25,32.5],
          "labelExpr": "datum.value % 5 === 0 ? replace(format(datum.value, '.1f'), '.', ',') : ''",
          "tickSize": 6, "tickColor": "#808080", "tickWidth": 1.5,
          "domainColor": "#ff0000", "domainWidth": 3.5,
          "labelPadding": 13, "labelBaseline": "alphabetic",
          "grid": true, "gridColor": "#808080", "gridWidth": 1.5,
          "gridOpacity": {"condition": {"test": "datum.value % 5 === 0 && datum.value > 0", "value": 1}, "value": 0}}
      }
    },
    "layer": [
      {"data": {"name": "sal"}, "mark": {"type": "line", "color": "#ff0000", "strokeWidth": 1.6},
       "encoding": {"detail": {"field": "p"}, "order": {"field": "d", "type": "quantitative"}}},
      {"data": {"values": [{"s": 33.3, "d": 0, "d2": 70}]}, "mark": {"type": "rule", "color": "#000000", "strokeWidth": 2},
       "encoding": {"y2": {"field": "d2"}}},
      {"data": {"values": [{"s": 0, "s2": 33.3, "d": 70}]}, "mark": {"type": "rule", "color": "#000000", "strokeWidth": 2},
       "encoding": {"x2": {"field": "s2"}}},
      {"data": {"values": [{"s": 7.28, "d": 43.2, "d2": 47.0}, {"s": 17.98, "d": 44.0, "d2": 50.5}]}, "mark": {"type": "rule", "color": "#000000", "strokeWidth": 2},
       "encoding": {"y2": {"field": "d2"}}},
      {"data": {"values": [{"s": 7.28, "d": 47.25}, {"s": 17.98, "d": 51.0}]}, "mark": {"type": "point", "shape": "triangle-down", "filled": true, "color": "#000000", "size": 220, "opacity": 1},
       "encoding": {}},
      {"data": {"values": [{"s": 10.28, "d": 6.05, "label": "Turbiditet"}]}, "mark": {"type": "text", "font": "Liberation Sans", "fontSize": 28, "color": "#000000", "align": "center", "baseline": "middle"},
       "encoding": {"text": {"field": "label"}}},
      {"data": {"values": [{"s": 27.84, "d": 5.1, "label": "Saltholdighet"}]}, "mark": {"type": "text", "font": "Liberation Sans", "fontSize": 28, "color": "#ff0000", "align": "center", "baseline": "middle"},
       "encoding": {"text": {"field": "label"}}},
      {"data": {"values": [{"s": 8.39, "d": 41.05, "label": "Deponiets ytterkant"}, {"s": 20.79, "d": 41.05, "label": "Ved nedføringsenhet"}]}, "mark": {"type": "text", "font": "Liberation Sans", "fontSize": 25, "color": "#000000", "align": "center", "baseline": "middle"},
       "encoding": {"text": {"field": "label"}}}
    ]
  },
  {
    "encoding": {
      "x": {"field": "t", "type": "quantitative",
        "scale": {"domain": [0, 12.48], "nice": false, "zero": false},
        "axis": {"orient": "top", "offset": 95, "title": "T (FTU)", "titleX": 877, "titleY": -3, "titleAlign": "left", "titleBaseline": "middle", "titleAngle": 0,
          "values": [0.25,0.5,0.75,1,1.25,1.5,1.75,2,2.25,2.5,2.75,3,3.25,3.5,3.75,4,4.25,4.5,4.75,5,5.25,5.5,5.75,6,6.25,6.5,6.75,7,7.25,7.5,7.75,8,8.25,8.5,8.75,9,9.25,9.5,9.75,10,10.25,10.5,10.75,11,11.25,11.5,11.75,12,12.25],
          "labelExpr": "datum.value % 1 === 0 ? replace(format(datum.value, '.1f'), '.', ',') : ''",
          "tickSize": {"condition": {"test": "datum.value % 1 === 0", "value": 11}, "value": 6},
          "tickColor": "#808080", "tickWidth": 1.5,
          "domainColor": "#808080", "domainWidth": 4, "domainCap": "round",
          "labelPadding": 7, "labelBaseline": "alphabetic", "grid": false}
      }
    },
    "layer": [
      {"data": {"values": [{"t": 0, "t2": 12.48, "d": 0.13, "d2": 0.9}]}, "mark": {"type": "rect", "color": "#808080"},
       "encoding": {"x2": {"field": "t2"}, "y2": {"field": "d2"}}},
      {"data": {"name": "turb"}, "mark": {"type": "line", "color": "#808080", "strokeWidth": 1.6},
       "encoding": {"detail": {"field": "p"}, "order": {"field": "d", "type": "quantitative"}}}
    ]
  },
  {
    "data": {"values": [{"f": 0, "d": 0}]},
    "mark": {"type": "point", "opacity": 0},
    "encoding": {
      "x": {"field": "f", "type": "quantitative",
        "scale": {"domain": [0, 7.49], "nice": false, "zero": false},
        "axis": {"orient": "top", "offset": 46, "title": "F (µg/l)", "titleX": 877, "titleY": -4, "titleAlign": "left", "titleBaseline": "middle", "titleAngle": 0,
          "values": [0,0.125,0.25,0.375,0.5,0.625,0.75,0.875,1,1.125,1.25,1.375,1.5,1.625,1.75,1.875,2,2.125,2.25,2.375,2.5,2.625,2.75,2.875,3,3.125,3.25,3.375,3.5,3.625,3.75,3.875,4,4.125,4.25,4.375,4.5,4.625,4.75,4.875,5,5.125,5.25,5.375,5.5,5.625,5.75,5.875,6,6.125,6.25,6.375,6.5,6.625,6.75,6.875,7,7.125,7.25,7.375],
          "labelExpr": "datum.value % 0.5 === 0 ? replace(format(datum.value, '.1f'), '.', ',') : ''",
          "tickSize": {"condition": {"test": "datum.value % 0.5 === 0", "value": 12}, "value": 6},
          "tickDash": {"condition": {"test": "datum.value % 0.5 === 0", "value": [2, 2, 8, 2]}, "value": [100, 0]},
          "tickColor": "#808080", "tickWidth": 1.5,
          "domain": false,
          "labelPadding": 9, "labelBaseline": "alphabetic", "grid": false}
      }
    }
  }
],
"resolve": {"scale": {"x": "independent"}, "axis": {"x": "independent"}}
}
